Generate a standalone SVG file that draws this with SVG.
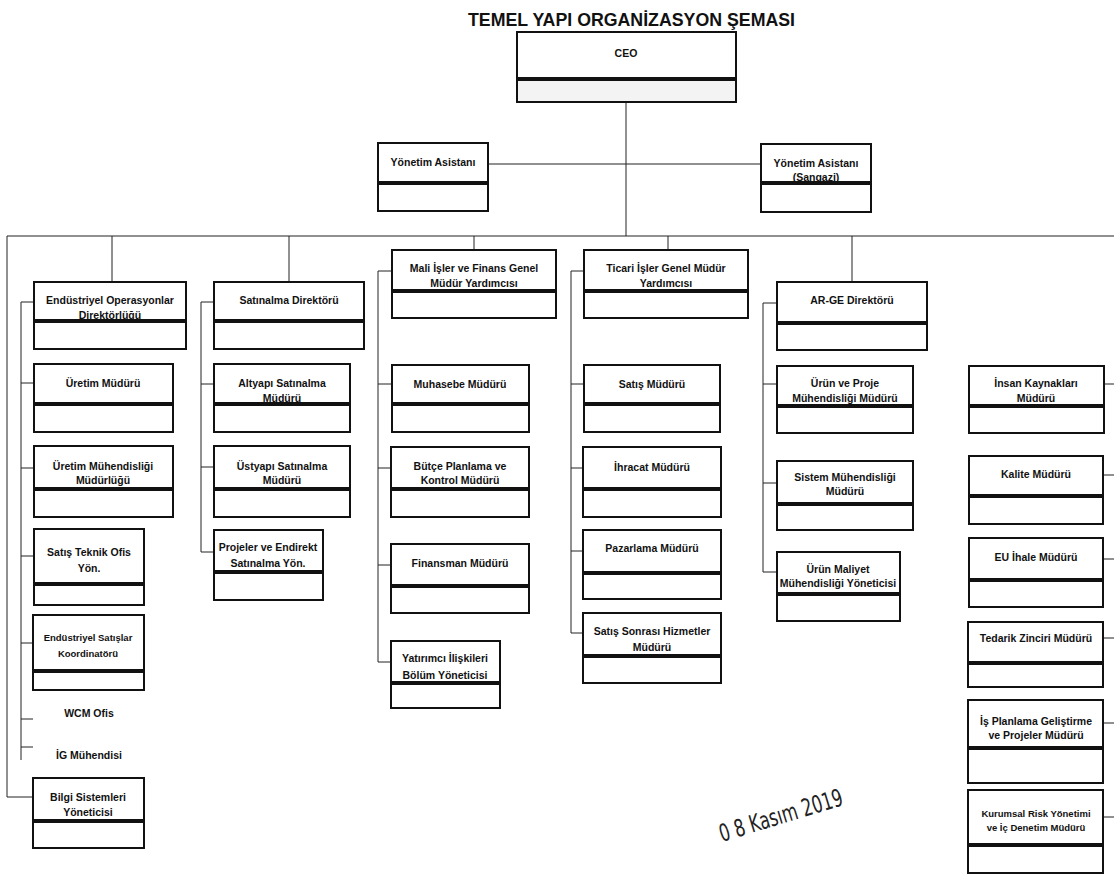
<svg xmlns="http://www.w3.org/2000/svg" width="1114" height="875" viewBox="0 0 1114 875">
<style>
.b{fill:#fff;stroke:#111;stroke-width:2}
.g{fill:#f3f3f3;stroke:#111;stroke-width:2}
.t{font-family:"Liberation Sans",Arial,sans-serif;font-weight:bold;font-size:10.5px;text-anchor:middle;fill:#111}
.s{font-size:9.5px}
.c{stroke:#222;stroke-width:1;fill:none}
.title{font-family:"Liberation Sans",Arial,sans-serif;font-weight:bold;font-size:19px;fill:#111}
.stamp{font-family:"DejaVu Sans Condensed","Liberation Sans",sans-serif;font-size:24px;fill:#222}
</style>
<rect width="1114" height="875" fill="#fff"/>
<text class="title" x="468" y="26" textLength="327" lengthAdjust="spacingAndGlyphs">TEMEL YAPI ORGANİZASYON ŞEMASI</text>

<g id="connectors">
<path class="c" d="M626 102V236M488 164H761M7 236H1114M7 236V797H33"/>
<path class="c" d="M112 236V282M289 236V282M474 236V250M668 236V250M852 236V282"/>
<path class="c" d="M34 302H21V760M21 383H34M21 468H34M21 556H34M21 643H33M21 719H33M21 747H33"/>
<path class="c" d="M214 302H201V552H214M201 384H214M201 467H214"/>
<path class="c" d="M392 271H378V662H391M378 384H392M378 468H391M378 565H391"/>
<path class="c" d="M584 271H571V633H583M571 384H584M571 468H583M571 551H583"/>
<path class="c" d="M777 303H763V572H777M763 384H777M763 483H777"/>
<path class="c" d="M1104 384H1114M1103 475H1114M1103 559H1114M1103 638H1114M1103 723H1114M1103 817H1114"/>
</g>

<g id="ceo"><rect class="b" x="517" y="32" width="219" height="46"/><rect class="g" x="517" y="80" width="219" height="22"/><text class="t" x="626" y="57">CEO</text></g>
<g id="yonetim-asistani"><rect class="b" x="378" y="143" width="110" height="39"/><rect class="b" x="378" y="184" width="110" height="27"/><text class="t" x="433" y="166">Yönetim Asistanı</text></g>
<g id="yonetim-asistani-sangazi"><rect class="b" x="761" y="144" width="110" height="38"/><rect class="b" x="761" y="184" width="110" height="28"/><text class="t" x="816" y="167">Yönetim Asistanı</text><text class="t" x="816" y="181">(Sangazi)</text></g>

<g id="endustriyel-op"><rect class="b" x="34" y="282" width="152" height="38"/><rect class="b" x="34" y="322" width="152" height="27"/><text class="t" x="110" y="304">Endüstriyel Operasyonlar</text><text class="t" x="110" y="319">Direktörlüğü</text></g>
<g id="satinalma-dir"><rect class="b" x="214" y="282" width="150" height="38"/><rect class="b" x="214" y="322" width="150" height="27"/><text class="t" x="289" y="304">Satınalma Direktörü</text></g>
<g id="mali-isler"><rect class="b" x="392" y="250" width="164" height="40"/><rect class="b" x="392" y="292" width="164" height="26"/><text class="t" x="474" y="272">Mali İşler ve Finans Genel</text><text class="t" x="474" y="287">Müdür Yardımcısı</text></g>
<g id="ticari-isler"><rect class="b" x="584" y="250" width="164" height="40"/><rect class="b" x="584" y="292" width="164" height="26"/><text class="t" x="666" y="272">Ticari İşler Genel Müdür</text><text class="t" x="666" y="287">Yardımcısı</text></g>
<g id="arge-dir"><rect class="b" x="777" y="282" width="150" height="40"/><rect class="b" x="777" y="324" width="150" height="26"/><text class="t" x="852" y="304">AR-GE Direktörü</text></g>

<g id="uretim-mud"><rect class="b" x="34" y="364" width="139" height="39"/><rect class="b" x="34" y="405" width="139" height="27"/><text class="t" x="103" y="387">Üretim Müdürü</text></g>
<g id="altyapi"><rect class="b" x="214" y="364" width="136" height="39"/><rect class="b" x="214" y="405" width="136" height="27"/><text class="t" x="282" y="387">Altyapı Satınalma</text><text class="t" x="282" y="402">Müdürü</text></g>
<g id="muhasebe"><rect class="b" x="392" y="365" width="137" height="38"/><rect class="b" x="392" y="405" width="137" height="27"/><text class="t" x="460" y="388">Muhasebe Müdürü</text></g>
<g id="satis-mud"><rect class="b" x="584" y="365" width="136" height="38"/><rect class="b" x="584" y="405" width="136" height="27"/><text class="t" x="652" y="388">Satış Müdürü</text></g>
<g id="urun-proje"><rect class="b" x="777" y="366" width="136" height="39"/><rect class="b" x="777" y="407" width="136" height="26"/><text class="t" x="845" y="387">Ürün ve Proje</text><text class="t" x="845" y="402">Mühendisliği Müdürü</text></g>
<g id="insan-kaynaklari"><rect class="b" x="969" y="366" width="135" height="39"/><rect class="b" x="969" y="407" width="135" height="26"/><text class="t" x="1036" y="387">İnsan Kaynakları</text><text class="t" x="1036" y="402">Müdürü</text></g>

<g id="uretim-muh"><rect class="b" x="34" y="446" width="139" height="42"/><rect class="b" x="34" y="490" width="139" height="27"/><text class="t" x="103" y="470">Üretim Mühendisliği</text><text class="t" x="103" y="484">Müdürlüğü</text></g>
<g id="ustyapi"><rect class="b" x="214" y="446" width="136" height="42"/><rect class="b" x="214" y="490" width="136" height="27"/><text class="t" x="282" y="470">Üstyapı Satınalma</text><text class="t" x="282" y="484">Müdürü</text></g>
<g id="butce"><rect class="b" x="391" y="447" width="138" height="41"/><rect class="b" x="391" y="490" width="138" height="27"/><text class="t" x="460" y="470">Bütçe Planlama ve</text><text class="t" x="460" y="484">Kontrol Müdürü</text></g>
<g id="ihracat"><rect class="b" x="583" y="447" width="138" height="41"/><rect class="b" x="583" y="490" width="138" height="27"/><text class="t" x="652" y="471">İhracat Müdürü</text></g>
<g id="sistem-muh"><rect class="b" x="777" y="461" width="136" height="42"/><rect class="b" x="777" y="505" width="136" height="25"/><text class="t" x="845" y="481">Sistem Mühendisliği</text><text class="t" x="845" y="495">Müdürü</text></g>
<g id="kalite"><rect class="b" x="969" y="456" width="134" height="39"/><rect class="b" x="969" y="497" width="134" height="27"/><text class="t" x="1036" y="478">Kalite Müdürü</text></g>

<g id="satis-teknik"><rect class="b" x="34" y="529" width="110" height="54"/><rect class="b" x="34" y="585" width="110" height="20"/><text class="t" x="89" y="556">Satış Teknik Ofis</text><text class="t" x="89" y="572">Yön.</text></g>
<g id="projeler-endirekt"><rect class="b" x="214" y="530" width="109" height="41"/><rect class="b" x="214" y="573" width="109" height="27"/><text class="t" x="268" y="551">Projeler ve Endirekt</text><text class="t" x="268" y="567">Satınalma Yön.</text></g>
<g id="finansman"><rect class="b" x="391" y="544" width="138" height="41"/><rect class="b" x="391" y="587" width="138" height="26"/><text class="t" x="460" y="567">Finansman Müdürü</text></g>
<g id="pazarlama"><rect class="b" x="583" y="530" width="138" height="42"/><rect class="b" x="583" y="574" width="138" height="25"/><text class="t" x="652" y="552">Pazarlama Müdürü</text></g>
<g id="urun-maliyet"><rect class="b" x="777" y="552" width="123" height="41"/><rect class="b" x="777" y="595" width="123" height="26"/><text class="t" x="838" y="573">Ürün Maliyet</text><text class="t" x="838" y="587">Mühendisliği Yöneticisi</text></g>
<g id="eu-ihale"><rect class="b" x="969" y="538" width="134" height="41"/><rect class="b" x="969" y="581" width="134" height="26"/><text class="t" x="1036" y="561">EU İhale Müdürü</text></g>

<g id="endustriyel-satislar"><rect class="b" x="33" y="615" width="111" height="55"/><rect class="b" x="33" y="672" width="111" height="18"/><text class="t s" x="88" y="641">Endüstriyel Satışlar</text><text class="t s" x="88" y="657">Koordinatörü</text></g>
<g id="yatirimci"><rect class="b" x="391" y="641" width="109" height="41"/><rect class="b" x="391" y="684" width="109" height="24"/><text class="t" x="445" y="662">Yatırımcı İlişkileri</text><text class="t" x="445" y="679">Bölüm Yöneticisi</text></g>
<g id="satis-sonrasi"><rect class="b" x="583" y="613" width="138" height="42"/><rect class="b" x="583" y="657" width="138" height="26"/><text class="t" x="652" y="635">Satış Sonrası Hizmetler</text><text class="t" x="652" y="651">Müdürü</text></g>
<g id="tedarik"><rect class="b" x="968" y="622" width="135" height="40"/><rect class="b" x="968" y="664" width="135" height="23"/><text class="t" x="1036" y="642">Tedarik Zinciri Müdürü</text></g>

<g id="wcm-ofis"><text class="t" x="89" y="717">WCM Ofis</text></g>
<g id="ig-muhendisi"><text class="t" x="89" y="759">İG Mühendisi</text></g>

<g id="is-planlama"><rect class="b" x="968" y="700" width="135" height="47"/><rect class="b" x="968" y="749" width="135" height="34"/><text class="t" x="1036" y="725">İş Planlama Geliştirme</text><text class="t" x="1036" y="739">ve Projeler Müdürü</text></g>
<g id="bilgi-sistemleri"><rect class="b" x="33" y="778" width="111" height="42"/><rect class="b" x="33" y="822" width="111" height="26"/><text class="t" x="88" y="801">Bilgi Sistemleri</text><text class="t" x="88" y="816">Yöneticisi</text></g>
<g id="kurumsal-risk"><rect class="b" x="968" y="790" width="135" height="54"/><rect class="b" x="968" y="846" width="135" height="27"/><text class="t s" x="1036" y="817">Kurumsal Risk Yönetimi</text><text class="t s" x="1036" y="831">ve İç Denetim Müdürü</text></g>

<text class="stamp" transform="translate(722 842) rotate(-17)" textLength="128" lengthAdjust="spacingAndGlyphs">0 8 Kasım 2019</text>
</svg>
